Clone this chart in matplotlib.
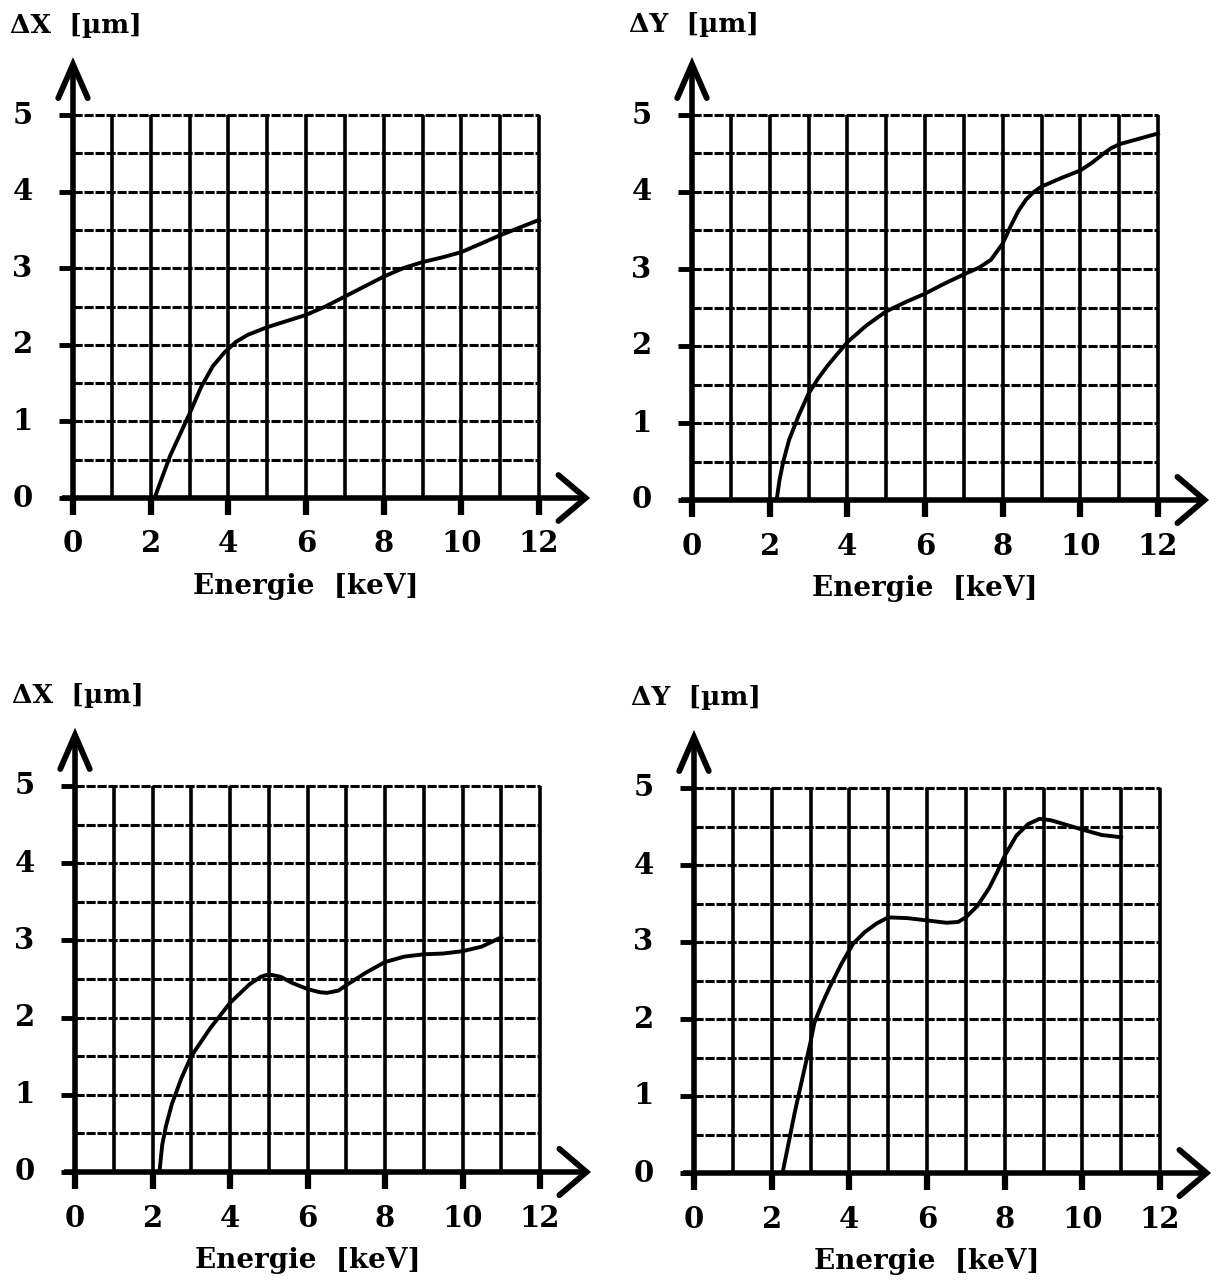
import matplotlib
matplotlib.use('Agg')
import matplotlib.pyplot as plt

# Energie [keV] / deviation [um]
e_tl = [2.1, 2.5, 3.0, 3.3, 3.6, 3.9, 4.2, 4.5, 5.0, 5.5, 6.0, 6.5, 7.0, 7.5, 8.0, 8.5, 9.0, 9.5, 10.0, 10.5, 11.0, 11.5, 12.0]
dx_tl = [0.0, 0.55, 1.1, 1.45, 1.72, 1.9, 2.04, 2.13, 2.23, 2.31, 2.39, 2.5, 2.63, 2.76, 2.89, 3.0, 3.08, 3.14, 3.21, 3.32, 3.43, 3.53, 3.63]

e_tr = [2.18, 2.25, 2.35, 2.5, 2.75, 3.0, 3.25, 3.5, 4.0, 4.5, 5.0, 5.5, 6.0, 6.5, 7.0, 7.4, 7.7, 8.0, 8.2, 8.4, 8.6, 8.8, 9.0, 9.5, 10.0, 10.3, 10.6, 10.8, 11.0, 11.5, 12.0]
dy_tr = [0.0, 0.25, 0.5, 0.78, 1.1, 1.38, 1.58, 1.75, 2.05, 2.27, 2.45, 2.57, 2.68, 2.81, 2.93, 3.02, 3.12, 3.33, 3.55, 3.75, 3.9, 4.0, 4.07, 4.18, 4.28, 4.38, 4.5, 4.57, 4.62, 4.69, 4.76]

e_bl = [2.18, 2.25, 2.35, 2.5, 2.75, 3.0, 3.5, 4.0, 4.5, 4.8, 5.0, 5.3, 5.6, 6.0, 6.3, 6.5, 6.8, 7.0, 7.5, 8.0, 8.5, 9.0, 9.5, 10.0, 10.5, 11.0]
dx_bl = [0.0, 0.35, 0.6, 0.88, 1.22, 1.5, 1.87, 2.19, 2.43, 2.53, 2.56, 2.53, 2.45, 2.37, 2.33, 2.32, 2.35, 2.42, 2.58, 2.72, 2.79, 2.82, 2.83, 2.86, 2.92, 3.04]

e_br = [2.28, 2.4, 2.6, 2.8, 3.0, 3.1, 3.3, 3.5, 3.8, 4.1, 4.4, 4.7, 5.0, 5.5, 6.0, 6.5, 6.8, 7.0, 7.3, 7.6, 7.8, 8.0, 8.3, 8.6, 8.9, 9.2, 9.6, 10.0, 10.5, 11.0]
dy_br = [0.0, 0.3, 0.8, 1.25, 1.7, 1.95, 2.2, 2.42, 2.72, 2.98, 3.13, 3.24, 3.32, 3.31, 3.28, 3.25, 3.26, 3.32, 3.47, 3.7, 3.9, 4.12, 4.38, 4.53, 4.6, 4.58, 4.52, 4.46, 4.39, 4.36]

x_ticks = [0, 2, 4, 6, 8, 10, 12]
y_ticks = [0, 1, 2, 3, 4, 5]
grid_x = list(range(1, 13))
grid_y = [0.5, 1.0, 1.5, 2.0, 2.5, 3.0, 3.5, 4.0, 4.5, 5.0]

W, H = 1217, 1280
FONT = 'DejaVu Serif'


def make_panel(fig, x0, x12, y0, y5, e, d, title):
    sx = (x12 - x0) / 12.0
    sy = (y0 - y5) / 5.0
    xmin, xmax, ymin, ymax = -1.0, 13.6, -0.4, 5.9
    left = (x0 + xmin * sx) / W
    width = (xmax - xmin) * sx / W
    bottom = 1 - (y0 - ymin * sy) / H
    height = (ymax - ymin) * sy / H
    ax = fig.add_axes([left, bottom, width, height])
    ax.set_xlim(xmin, xmax)
    ax.set_ylim(ymin, ymax)
    ax.axis('off')

    # grid
    ax.vlines(grid_x, 0, 5, color='black', lw=2.6)
    ax.hlines(grid_y, 0, 12, color='black', lw=2.2, linestyles=(0, (3, 0.6)))

    # axes with open arrow heads
    ax.plot([0, 0], [-0.2, 5.62], color='black', lw=4.0, solid_capstyle='butt')
    ax.plot([-0.28, 13.15], [0, 0], color='black', lw=4.0, solid_capstyle='butt')
    ax.plot([-0.38, 0, 0.38], [5.22, 5.66, 5.22], color='black', lw=4.2,
            solid_joinstyle='miter', solid_capstyle='round')
    ax.plot([12.5, 13.2, 12.5], [0.3, 0, -0.3], color='black', lw=4.2,
            solid_joinstyle='miter', solid_capstyle='round')

    # ticks
    for t in y_ticks:
        ax.plot([-0.35, 0], [t, t], color='black', lw=3.5, solid_capstyle='butt')
        ax.text(-1.3, t, str(t), ha='center', va='center', fontsize=21,
                family=FONT, fontweight='bold')
    for t in x_ticks:
        ax.plot([t, t], [-0.22, 0], color='black', lw=4.5, solid_capstyle='butt')
        ax.text(t, -0.6, str(t), ha='center', va='center', fontsize=21,
                family=FONT, fontweight='bold')

    ax.plot(e, d, color='black', lw=2.8, solid_joinstyle='round')

    ax.text(-1.63, 6.17, title, ha='left', va='center', fontsize=19,
            family=FONT, fontweight='bold')
    ax.text(6, -1.15, 'Energie  [keV]', ha='center', va='center', fontsize=20,
            family=FONT, fontweight='bold')
    return ax


def main():
    fig = plt.figure(figsize=(W / 100, H / 100), dpi=100)
    make_panel(fig, 73, 539, 498, 115, e_tl, dx_tl, 'ΔX  [µm]')
    make_panel(fig, 692, 1158, 500, 115, e_tr, dy_tr, 'ΔY  [µm]')
    make_panel(fig, 75, 540, 1172, 786, e_bl, dx_bl, 'ΔX  [µm]')
    make_panel(fig, 694, 1160, 1173, 788, e_br, dy_br, 'ΔY  [µm]')
    fig.savefig('out.png', dpi=100, facecolor='white')


if __name__ == "__main__":
    main()
